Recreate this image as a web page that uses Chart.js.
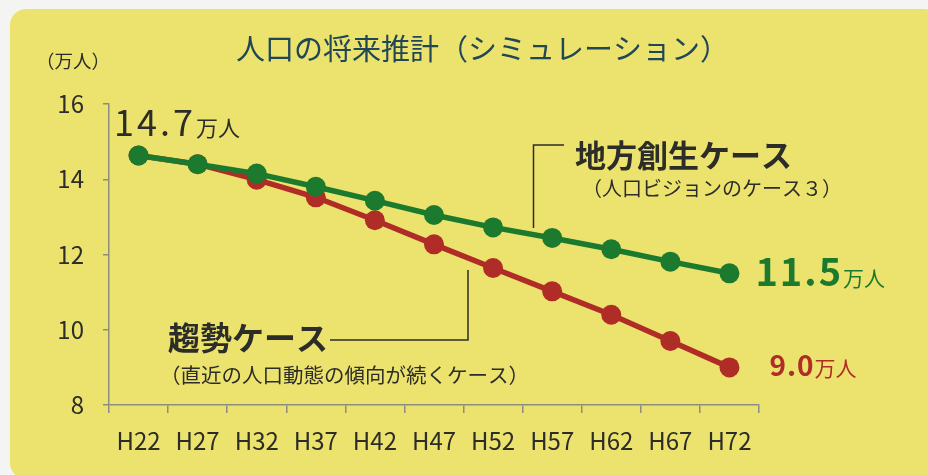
<!DOCTYPE html>
<html lang="ja">
<head>
<meta charset="utf-8">
<script src="https://cdn.jsdelivr.net/npm/chart.js@4"></script>
<style>
    html, body { margin: 0; padding: 0; background: #f4f4f2; }
    #wrap {
        position: absolute; left: 10px; top: 9px; width: 930px; height: 470px;
        background: #ece36e; border-radius: 16px;
    }
    #chart { position: absolute; left: 0; top: 0; }
</style>
</head>
<body>
<div id="wrap"></div>
<canvas id="chart" width="928" height="475"></canvas>
<script>
const years = ["H22", "H27", "H32", "H37", "H42", "H47", "H52", "H57", "H62", "H67", "H72"];
const regionalCase = [14.63, 14.40, 14.15, 13.80, 13.43, 13.05, 12.72, 12.44, 12.14, 11.81, 11.50];
const trendCase = [14.63, 14.40, 13.99, 13.52, 12.91, 12.27, 11.64, 11.02, 10.40, 9.70, 9.00];
const yTicks = [8, 10, 12, 14, 16];

const FONT = "'Noto Sans CJK JP', 'Noto Sans', sans-serif";
const GREEN = "#1b7a2d";
const RED = "#b02c27";
const DARK = "#2c2c28";

// texto con unidad pequeña detrás
function drawValue(ctx, num, unit, x, y, numFont, unitFont, spacing) {
    ctx.font = numFont;
    ctx.letterSpacing = spacing + "px";
    ctx.fillText(num, x, y);
    let w = ctx.measureText(num).width;
    ctx.letterSpacing = "0px";
    ctx.font = unitFont;
    ctx.fillText(unit, x + w, y);
}

const notesPlugin = {
    id: "notes",
    afterDatasetsDraw(chart) {
        const ctx = chart.ctx;
        const x = chart.scales.x;
        const y = chart.scales.y;
        const last = years.length - 1;

        ctx.save();
        ctx.textBaseline = "alphabetic";
        ctx.textAlign = "left";

        // título
        ctx.fillStyle = "#1f4756";
        ctx.font = "29px " + FONT;
        ctx.fillText("人口の将来推計（シミュレーション）", 236, 60);

        ctx.fillStyle = DARK;
        ctx.font = "18.5px " + FONT;
        ctx.fillText("（万人）", 36, 68);

        drawValue(ctx, "14.7", "万人", 114, 136, "36px " + FONT, "22px " + FONT, 3);

        // valores finales
        ctx.fillStyle = GREEN;
        drawValue(ctx, "11.5", "万人", x.getPixelForValue(last) + 26, y.getPixelForValue(regionalCase[last]) + 13,
            "bold 38px " + FONT, "21px " + FONT, 2);

        ctx.fillStyle = RED;
        drawValue(ctx, "9.0", "万人", x.getPixelForValue(last) + 40, y.getPixelForValue(trendCase[last]) + 9,
            "bold 28px " + FONT, "21px " + FONT, 1);

        // 地方創生ケース
        ctx.fillStyle = DARK;
        ctx.font = "bold 31px " + FONT;
        ctx.fillText("地方創生ケース", 575, 167);
        ctx.font = "20px " + FONT;
        ctx.fillText("（人口ビジョンのケース３）", 582, 196);

        // 趨勢ケース
        ctx.font = "bold 32px " + FONT;
        ctx.fillText("趨勢ケース", 168, 350);
        ctx.font = "20.5px " + FONT;
        ctx.fillText("（直近の人口動態の傾向が続くケース）", 160, 383);

        // líneas guía
        ctx.strokeStyle = DARK;
        ctx.lineWidth = 1.5;
        ctx.beginPath();
        ctx.moveTo(564, 145);
        ctx.lineTo(533.5, 145);
        ctx.lineTo(533.5, 228);
        ctx.moveTo(330, 340);
        ctx.lineTo(468, 340);
        ctx.lineTo(468, 270);
        ctx.stroke();

        ctx.restore();
    }
};

const ctx = document.getElementById("chart");
new Chart(ctx, {
    type: "line",
    data: {
        labels: years,
        datasets: [{
            label: "地方創生ケース",
            data: regionalCase,
            borderColor: GREEN,
            backgroundColor: GREEN,
            borderWidth: 5.5,
            pointRadius: 10,
            pointBorderWidth: 0,
            tension: 0
        }, {
            label: "趨勢ケース",
            data: trendCase,
            borderColor: RED,
            backgroundColor: RED,
            borderWidth: 5.5,
            pointRadius: 10,
            pointBorderWidth: 0,
            tension: 0
        }]
    },
    options: {
        responsive: false,
        animation: false,
        layout: {
            autoPadding: false,
            padding: { left: 0, top: 104, right: 169, bottom: 0 }
        },
        plugins: {
            legend: { display: false },
            tooltip: { enabled: false }
        },
        scales: {
            x: {
                offset: true,
                afterFit: (scale) => { scale.height = 70; },
                grid: {
                    offset: true,
                    drawOnChartArea: false,
                    drawTicks: true,
                    tickLength: 8,
                    color: "#8d8c80",
                    lineWidth: 1.5
                },
                border: { color: "#8d8c80", width: 1.5 },
                ticks: {
                    padding: 13,
                    color: DARK,
                    font: { family: FONT, size: 24 },
                    maxRotation: 0
                }
            },
            y: {
                min: 8,
                max: 16,
                afterFit: (scale) => { scale.width = 109; },
                afterBuildTicks: (scale) => { scale.ticks = yTicks.map(v => ({ value: v })); },
                grid: {
                    drawOnChartArea: false,
                    drawTicks: true,
                    tickLength: 6,
                    color: "#8d8c80",
                    lineWidth: 1.5
                },
                border: { color: "#8d8c80", width: 1.5 },
                ticks: {
                    padding: 19,
                    color: DARK,
                    font: { family: FONT, size: 24 }
                }
            }
        }
    },
    plugins: [notesPlugin]
});
</script>
</body>
</html>
